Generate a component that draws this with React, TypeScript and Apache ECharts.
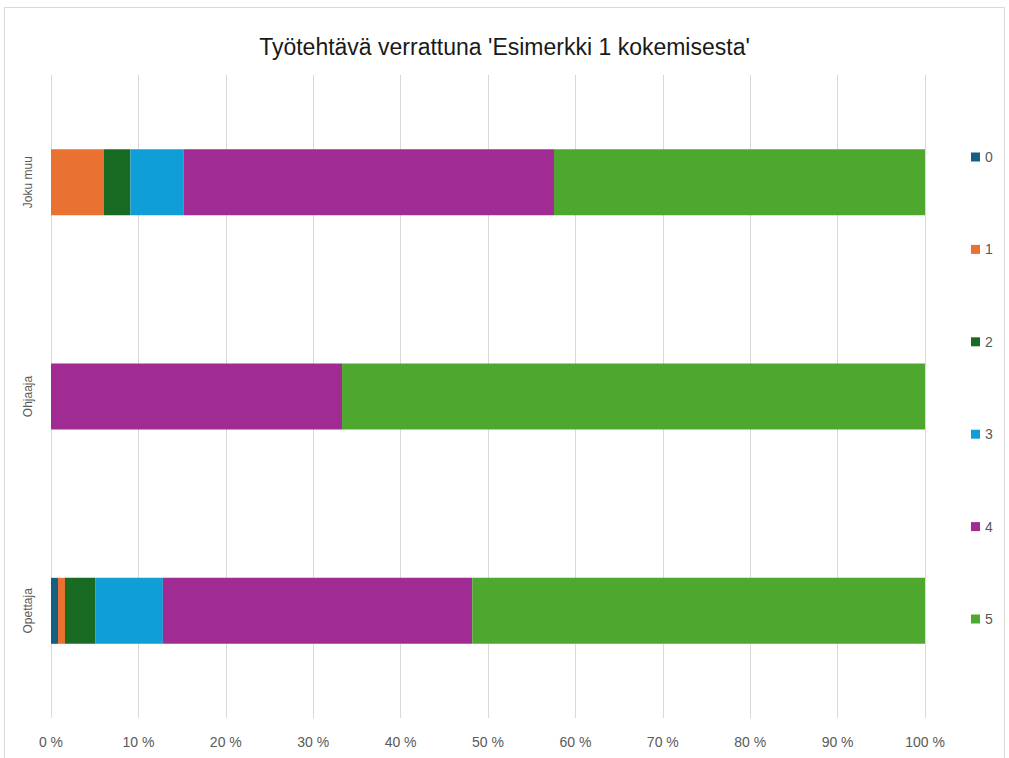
import React, { useEffect, useRef } from "react";
import * as echarts from "echarts";

const categories = ["Opettaja", "Ohjaaja", "Joku muu"];
const seriesNames = ["0", "1", "2", "3", "4", "5"];
const colors = ["#156082", "#E97132", "#196B24", "#0F9ED5", "#A02B93", "#4EA72E"];
// percentages per category (Opettaja, Ohjaaja, Joku muu)
const s0 = [0.8, 0, 0];
const s1 = [0.8, 0, 6.06];
const s2 = [3.5, 0, 3.03];
const s3 = [7.7, 0, 6.06];
const s4 = [35.4, 33.3, 42.4];
const s5 = [51.8, 66.7, 42.45];
const seriesValues = [s0, s1, s2, s3, s4, s5];
const xTicks = [0, 10, 20, 30, 40, 50, 60, 70, 80, 90, 100];
const title = "Työtehtävä verrattuna 'Esimerkki 1 kokemisesta'";

const FONT = "'Liberation Sans Narrow', 'Liberation Sans', Arial, sans-serif";

export default function App() {
  const ref = useRef<HTMLDivElement>(null);
  useEffect(() => {
    if (!ref.current) return;
    const chart = echarts.init(ref.current, null, { renderer: "svg" });
    chart.setOption({
      animation: false,
      backgroundColor: "#ffffff",
      title: {
        text: title,
        left: "center",
        top: 30,
        textStyle: { fontFamily: FONT, fontSize: 23, fontWeight: "normal", color: "#1a1a1a" },
      },
      graphic: [
        {
          type: "rect",
          shape: { x: 4.5, y: 7.5, width: 1000, height: 770 },
          style: { fill: "none", stroke: "#d9d9d9", lineWidth: 1 },
          silent: true,
          z: -1,
        },
      ],
      legend: {
        orient: "vertical",
        left: 966,
        top: 145,
        itemWidth: 9,
        itemHeight: 9,
        itemGap: 78.4,
        icon: "rect",
        data: seriesNames,
        textStyle: { fontFamily: "'Liberation Sans', Arial, sans-serif", fontSize: 14, color: "#595959", lineHeight: 14, padding: [0, 0, 0, 0] },
      },
      grid: { left: 51, right: 84, top: 75, bottom: 40, containLabel: false },
      xAxis: {
        type: "value",
        min: xTicks[0],
        max: xTicks[xTicks.length - 1],
        interval: 10,
        axisLine: { show: false },
        axisTick: { show: false },
        splitLine: { show: true, lineStyle: { color: "#d9d9d9", width: 1 } },
        axisLabel: {
          formatter: "{value} %",
          margin: 17,
          color: "#595959",
          fontFamily: FONT,
          fontSize: 14,
        },
      },
      yAxis: {
        type: "category",
        data: categories,
        axisLine: { show: false },
        axisTick: { show: false },
        axisLabel: {
          rotate: 90,
          margin: 17,
          color: "#595959",
          fontFamily: "'Liberation Sans', Arial, sans-serif",
          fontSize: 12,
        },
      },
      series: seriesNames.map((name, i) => ({
        name,
        type: "bar",
        stack: "total",
        barWidth: 66,
        data: seriesValues[i],
        itemStyle: { color: colors[i] },
      })),
    });
    return () => chart.dispose();
  }, []);
  return (
    <div
      ref={ref}
      style={{ position: "absolute", left: 0, top: 0, width: 1009, height: 758 }}
    />
  );
}
